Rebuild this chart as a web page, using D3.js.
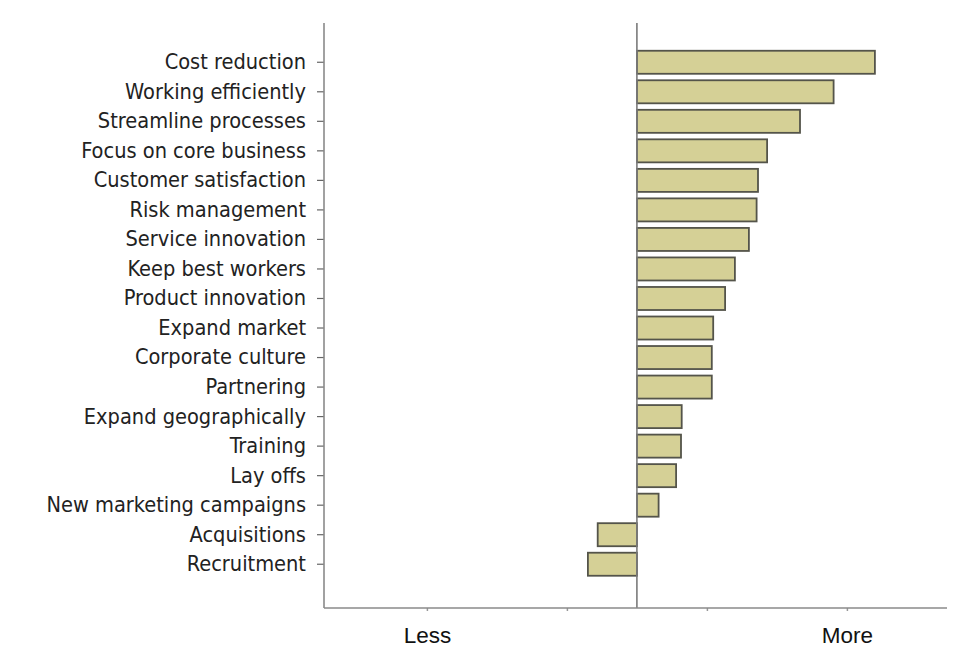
<!DOCTYPE html>
<html>
<head>
<meta charset="utf-8">
<script src="https://cdn.jsdelivr.net/npm/d3@7"></script>
<style>
  html, body { margin: 0; padding: 0; background: #fff; }
  svg { display: block; }
</style>
</head>
<body>
<svg id="chart" width="957" height="652"></svg>
<script>
// Business drivers, ranked by relative importance (negative = less important)
const categories = [
  "Cost reduction", "Working efficiently", "Streamline processes",
  "Focus on core business", "Customer satisfaction", "Risk management",
  "Service innovation", "Keep best workers", "Product innovation",
  "Expand market", "Corporate culture", "Partnering",
  "Expand geographically", "Training", "Lay offs",
  "New marketing campaigns", "Acquisitions", "Recruitment"
];
const values = [
  3.40, 2.81, 2.33, 1.86, 1.73, 1.71, 1.60, 1.40, 1.26,
  1.09, 1.07, 1.07, 0.64, 0.63, 0.56, 0.31, -0.56, -0.70
];
const xTickValues = [-3, -1, 1, 3];
const xTickLabels = { "-3": "Less", "3": "More" };

const svg = d3.select("#chart");

const plot = { left: 324, right: 947, top: 23, bottom: 608 };

const x = d3.scaleLinear().domain([-4.47, 4.43]).range([plot.left, plot.right]);
const y = d3.scaleBand()
  .domain(categories)
  .range([47.5, 579])
  .paddingInner(0.22)
  .paddingOuter(0.11);

// bars
svg.append("g")
  .selectAll("rect")
  .data(categories.map((c, i) => ({ c, v: values[i] })))
  .join("rect")
  .attr("x", d => x(Math.min(0, d.v)))
  .attr("y", d => y(d.c))
  .attr("width", d => Math.abs(x(d.v) - x(0)))
  .attr("height", y.bandwidth())
  .attr("fill", "#d5d096")
  .attr("stroke", "#54544a")
  .attr("stroke-width", 1.8);

// zero reference line
svg.append("line")
  .attr("x1", x(0)).attr("x2", x(0))
  .attr("y1", plot.top).attr("y2", plot.bottom)
  .attr("stroke", "#7a7a7a").attr("stroke-width", 1.6);

// category axis
const yAxis = svg.append("g")
  .attr("transform", `translate(${plot.left},0)`)
  .call(d3.axisLeft(y).tickSize(7).tickPadding(11));
yAxis.select(".domain").remove();
yAxis.append("line")
  .attr("x1", 0).attr("x2", 0)
  .attr("y1", plot.top).attr("y2", plot.bottom)
  .attr("stroke", "#8a8a8a").attr("stroke-width", 1.6);
yAxis.selectAll(".tick line").attr("stroke", "#666").attr("stroke-width", 1.2);
yAxis.selectAll(".tick text")
  .attr("fill", "#222")
  .style("font-family", "'DejaVu Sans Condensed', 'DejaVu Sans', sans-serif")
  .style("font-size", "21.6px");

// value axis
const xAxis = svg.append("g")
  .attr("transform", `translate(0,${plot.bottom})`)
  .call(d3.axisBottom(x)
    .tickValues(xTickValues)
    .tickSize(3)
    .tickPadding(16)
    .tickFormat(d => xTickLabels[d] || ""));
xAxis.select(".domain").remove();
xAxis.append("line")
  .attr("x1", plot.left).attr("x2", plot.right)
  .attr("y1", 0).attr("y2", 0)
  .attr("stroke", "#8a8a8a").attr("stroke-width", 1.6);
xAxis.selectAll(".tick line").attr("stroke", "#999").attr("stroke-width", 1.5);
xAxis.selectAll(".tick text")
  .attr("fill", "#111")
  .style("font-family", "'Liberation Sans', Arial, sans-serif")
  .style("font-size", "22.5px");
</script>
</body>
</html>
